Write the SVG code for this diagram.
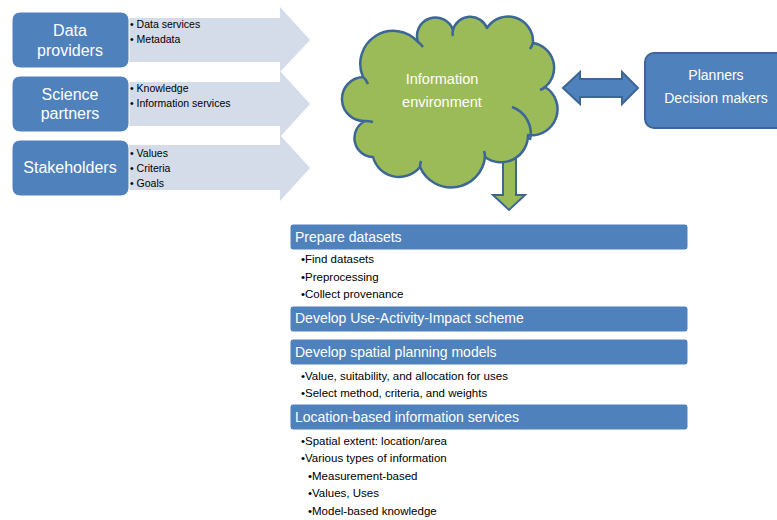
<svg xmlns="http://www.w3.org/2000/svg" width="777" height="520" viewBox="0 0 777 520">
<style>
text{font-family:"Liberation Sans",Arial,sans-serif}
.box{fill:#4f81bd;stroke:#ffffff;stroke-width:1}
.bigw{fill:#ffffff;font-size:16px;text-anchor:middle}
.arr{fill:#d4dbe9}
.sm{fill:#000;font-size:10.5px}
.hdr{fill:#4f81bd;stroke:#ffffff;stroke-width:1}
.ht{fill:#ffffff;font-size:14px}
.bl{fill:#000;font-size:11.5px}
</style>
<rect width="777" height="520" fill="#ffffff"/>
<g id="connectors">
<path class="arr" d="M120,18 H280 V7 L310,40 L280,72 V62 H120 Z"/>
<path class="arr" d="M120,82 H280 V71 L310,104 L280,137 V126 H120 Z"/>
<path class="arr" d="M120,145 H280 V135 L310,168 L280,201 V190 H120 Z"/>
<path d="M503,150 V195 H493 L509,210 L525,195 H516 V150 Z" fill="#9bbb59" stroke="#3c6695" stroke-width="2" stroke-linejoin="miter"/>
<path d="M563,88 L580,72 V79 H622 V72 L638,88 L622,104 V97 H580 V104 Z" fill="#4f81bd" stroke="#3c6695" stroke-width="2" stroke-linejoin="miter"/>
</g>
<g id="data-providers">
<rect class="box" x="12" y="12" width="117" height="56" rx="8"/>
<text class="bigw" x="70" y="36">Data</text>
<text class="bigw" x="70" y="56">providers</text>
<text class="sm" x="130" y="28">• Data services</text>
<text class="sm" x="130" y="43">• Metadata</text>
</g>
<g id="science-partners">
<rect class="box" x="12" y="76" width="117" height="56" rx="8"/>
<text class="bigw" x="70" y="100">Science</text>
<text class="bigw" x="70" y="119">partners</text>
<text class="sm" x="130" y="92">• Knowledge</text>
<text class="sm" x="130" y="107">• Information services</text>
</g>
<g id="stakeholders">
<rect class="box" x="12" y="140" width="117" height="56" rx="8"/>
<text class="bigw" x="70" y="173">Stakeholders</text>
<text class="sm" x="130" y="157">• Values</text>
<text class="sm" x="130" y="172">• Criteria</text>
<text class="sm" x="130" y="187">• Goals</text>
</g>
<g id="information-environment">
<path d="M363,77 A33,33 0 0 1 418,42 A18.5,18.5 0 0 1 453,30 A18,18 0 0 1 487,28 A25,25 0 0 1 533,43 A25,25 0 0 1 545,87 A26,26 0 0 1 528,135 A27,27 0 0 1 485,157 A34,34 0 0 1 420,167 A27,27 0 0 1 373,157 A19,19 0 0 1 365,121 A22,22 0 0 1 363,77 Z" fill="#9bbb59" stroke="#3c6695" stroke-width="2.5" stroke-linejoin="round"/>
<g fill="none" stroke="#3c6695" stroke-width="2.5">
<path d="M512,107 A28,28 0 0 1 530,140"/>
<path d="M363,77 Q366,79 368,84"/>
<path d="M418,42 Q421,44 423,47"/>
<path d="M453,30 Q452,33 453,36"/>
<path d="M533,43 Q532,46 530,49"/>
<path d="M545,87 Q543,89 540,90"/>
<path d="M365,121 Q369,121 373,122"/>
<path d="M420,167 Q420,164 421,161"/>
<path d="M485,157 Q485,154 484,151"/>
</g>
<text x="442" y="84" fill="#ffffff" font-size="14.5" text-anchor="middle">Information</text>
<text x="442" y="107" fill="#ffffff" font-size="14.5" text-anchor="middle">environment</text>
</g>
<g id="planners">
<rect x="645" y="53" width="145" height="75" rx="9" fill="#4f81bd" stroke="#3c6695" stroke-width="2"/>
<text x="716" y="80" fill="#ffffff" font-size="14" text-anchor="middle">Planners</text>
<text x="716" y="103" fill="#ffffff" font-size="14" text-anchor="middle">Decision makers</text>
</g>
<g id="prepare-datasets">
<rect class="hdr" x="290" y="224" width="398" height="26" rx="3"/>
<text class="ht" x="295" y="242">Prepare datasets</text>
<text class="bl" x="301" y="263">•Find datasets</text>
<text class="bl" x="301" y="281">•Preprocessing</text>
<text class="bl" x="301" y="298">•Collect provenance</text>
</g>
<g id="use-activity-impact">
<rect class="hdr" x="290" y="306" width="398" height="26" rx="3"/>
<text class="ht" x="295" y="323">Develop Use-Activity-Impact scheme</text>
</g>
<g id="spatial-planning-models">
<rect class="hdr" x="290" y="339" width="398" height="26" rx="3"/>
<text class="ht" x="295" y="357">Develop spatial planning models</text>
<text class="bl" x="301" y="380">•Value, suitability, and allocation for uses</text>
<text class="bl" x="301" y="397">•Select method, criteria, and weights</text>
</g>
<g id="location-based-services">
<rect class="hdr" x="290" y="404" width="398" height="26" rx="3"/>
<text class="ht" x="295" y="422">Location-based information services</text>
<text class="bl" x="301" y="445">•Spatial extent: location/area</text>
<text class="bl" x="301" y="462">•Various types of information</text>
<text class="bl" x="308" y="480">•Measurement-based</text>
<text class="bl" x="308" y="497">•Values, Uses</text>
<text class="bl" x="308" y="515">•Model-based knowledge</text>
</g>
</svg>
